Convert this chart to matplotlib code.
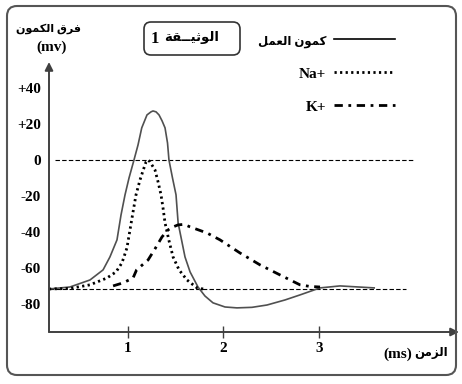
import matplotlib
matplotlib.use("Agg")
import matplotlib.pyplot as plt
from matplotlib.patches import FancyBboxPatch
from matplotlib.lines import Line2D
import matplotlib.transforms as mtransforms

# Arabic letters -> (isolated, final, initial, medial) presentation forms
FORMS = {
    'ا': ('\uFE8D', '\uFE8E', None, None),
    'ل': ('\uFEDD', '\uFEDE', '\uFEDF', '\uFEE0'),
    'ك': ('\uFED9', '\uFEDA', '\uFEDB', '\uFEDC'),
    'م': ('\uFEE1', '\uFEE2', '\uFEE3', '\uFEE4'),
    'و': ('\uFEED', '\uFEEE', None, None),
    'ن': ('\uFEE5', '\uFEE6', '\uFEE7', '\uFEE8'),
    'ف': ('\uFED1', '\uFED2', '\uFED3', '\uFED4'),
    'ر': ('\uFEAD', '\uFEAE', None, None),
    'ق': ('\uFED5', '\uFED6', '\uFED7', '\uFED8'),
    'ث': ('\uFE99', '\uFE9A', '\uFE9B', '\uFE9C'),
    'ي': ('\uFEF1', '\uFEF2', '\uFEF3', '\uFEF4'),
    'ة': ('\uFE93', '\uFE94', None, None),
    'ع': ('\uFEC9', '\uFECA', '\uFECB', '\uFECC'),
    'ز': ('\uFEAF', '\uFEB0', None, None),
    'ـ': ('ـ', 'ـ', 'ـ', 'ـ'),
}


def shape(word):
    # join letters and put them in visual (left to right) order
    out = []
    n = len(word)
    for i, c in enumerate(word):
        f = FORMS.get(c)
        if f is None:
            out.append(c)
            continue
        prev = word[i - 1] if i > 0 else None
        nxt = word[i + 1] if i < n - 1 else None
        jp = prev in FORMS and FORMS[prev][2] is not None
        jn = f[2] is not None and nxt in FORMS
        if jp and jn:
            out.append(f[3])
        elif jp:
            out.append(f[1])
        elif jn:
            out.append(f[2])
        else:
            out.append(f[0])
    return ''.join(reversed(out))


# texts
ylabel_ar = "فرق الكمون"
xlabel_ar = "الزمن"
title_ar = "الوثيــقة"
ap_label = "كمون العمل"
na_label = "Na+"
k_label = "K+"

# data (time in ms, potential in mV)
ap_t = [0.175, 0.394, 0.604, 0.741, 0.813, 0.887, 0.929, 0.971, 1.013, 1.065,
        1.107, 1.146, 1.201, 1.243, 1.264, 1.296, 1.327, 1.359, 1.39, 1.416,
        1.431, 1.468, 1.505, 1.527, 1.599, 1.652, 1.735, 1.808, 1.892, 2.018,
        2.143, 2.3, 2.458, 2.646, 2.803, 3.013, 3.222, 3.58]
ap_v = [-71.7, -70.6, -66.7, -61.1, -53.9, -44.4, -30.6, -19.4, -10, 0,
        8.3, 17.8, 25, 26.7, 27.2, 26.7, 25, 21.7, 17.8, 9.4,
        0, -10, -19.4, -35, -53.9, -62.2, -70.6, -75.6, -79.4, -81.7,
        -82.2, -81.9, -80.6, -77.8, -75, -71.1, -70, -71.1]

na_t = [0.175, 0.394, 0.604, 0.782, 0.877, 0.939, 0.991, 1.023, 1.055, 1.086,
        1.128, 1.162, 1.191, 1.212, 1.233, 1.285, 1.317, 1.348, 1.369, 1.39,
        1.432, 1.474, 1.537, 1.62, 1.725, 1.81]
na_v = [-71.7, -71.4, -69.4, -65.6, -62.2, -57.2, -48.9, -38.9, -28.9, -19.4,
        -11.1, -5.6, -1.1, 0, -1.1, -5.6, -12.2, -19.4, -26.7, -35,
        -45, -53.9, -61.1, -66.7, -71.1, -71.9]

k_t = [0.846, 0.951, 1.055, 1.092, 1.212, 1.285, 1.358, 1.421, 1.475, 1.526,
       1.589, 1.652, 1.83, 1.965, 2.175, 2.384, 2.594, 2.803, 2.908, 3.013]
k_v = [-70, -68.3, -65.6, -61.1, -55.6, -49.4, -42.8, -38.9, -37.2, -36.1,
       -35.8, -37.2, -40.6, -44.4, -51.7, -58.3, -63.9, -69.4, -70.3, -70.6]

rest_v = -71.7
zero_v = 0

xticks = [1, 2, 3]
yticks = [40, 20, 0, -20, -40, -60, -80]
ytick_labels = ["+40", "+20", "0", "-20", "-40", "-60", "-80"]

W, H = 462, 384
fams = ['Liberation Serif', 'DejaVu Sans']
plt.rcParams['font.family'] = fams
plt.rcParams['font.weight'] = 'bold'

fig = plt.figure(figsize=(W / 100, H / 100), dpi=100)
ax = fig.add_axes([49 / W, 1 - 332 / H, 410 / W, 270 / H])
ax.set_xlim(0.175, 4.468)
ax.set_ylim(-95.6, 54.4)
ax.patch.set_alpha(0)

# reference dashed lines
ax.plot([0.238, 3.986], [zero_v, zero_v], color='black', lw=0.8, ls=(0, (4, 2)))
ax.plot([0.175, 3.913], [rest_v, rest_v], color='black', lw=0.8, ls=(0, (4, 2)))

ax.plot(ap_t, ap_v, color='#505050', lw=1.2)
ax.plot(na_t, na_v, color='black', lw=2, ls=(0, (0.8, 1.2)))
ax.plot(k_t, k_v, color='black', lw=2, ls=(0, (3, 2, 1, 2)))

for s in ax.spines.values():
    s.set_visible(False)
arrow = dict(arrowstyle='-|>', color='#404040', lw=1.4, mutation_scale=12,
             shrinkA=0, shrinkB=0)
ax.annotate('', xy=(0, 1), xytext=(0, 0), xycoords='axes fraction', arrowprops=arrow)
ax.annotate('', xy=(1, 0), xytext=(0, 0), xycoords='axes fraction', arrowprops=arrow)

ax.set_xticks(xticks)
ax.set_xticklabels([str(x) for x in xticks], fontsize=11, fontweight='bold')
ax.tick_params(axis='x', direction='inout', length=8, width=1, color='#404040', pad=3)
ax.set_yticks(yticks)
ax.set_yticklabels(ytick_labels, fontsize=11, fontweight='bold')
ax.tick_params(axis='y', length=0, pad=6)

# legend (text then line)
handles = [Line2D([], [], color='black', lw=1.2),
           Line2D([], [], color='black', lw=2, ls=(0, (0.8, 1.2))),
           Line2D([], [], color='black', lw=2, ls=(0, (3, 2, 1, 2)))]
leg = ax.legend(handles, [shape(ap_label), na_label, k_label], markerfirst=False,
                frameon=False, loc='upper right', bbox_to_anchor=(395 / W, 1 - 34 / H),
                bbox_transform=fig.transFigure, prop=dict(size=11, weight='bold'),
                handlelength=4.0, handletextpad=0.5, labelspacing=1.25,
                borderpad=0, borderaxespad=0)
leg.get_texts()[0].set_fontsize(8.5)

px = mtransforms.IdentityTransform()

# outer frame
frame = FancyBboxPatch((7, H - 375), 449, 369, boxstyle='round,pad=0,rounding_size=10',
                       transform=px, fill=False, ec='#555555', lw=1.5)
fig.patches.append(frame)
# title box
tbox = FancyBboxPatch((144, H - 55), 96, 33, boxstyle='round,pad=0,rounding_size=7',
                      transform=px, fill=False, ec='#333333', lw=1.2)
fig.patches.append(tbox)
fig.text(155 / W, 1 - 39 / H, "1", ha='center', va='center',
         fontsize=12, fontweight='bold')
fig.text(164 / W, 1 - 38 / H, shape(title_ar), ha='left', va='center',
         fontsize=9.5, fontweight='bold')

fig.text(49 / W, 1 - 29 / H, shape(ylabel_ar), ha='center', va='center',
         fontsize=8, fontweight='bold')
fig.text(52 / W, 1 - 47 / H, "(mv)", ha='center', va='center', fontsize=11,
         fontweight='bold')
fig.text(398 / W, 1 - 354 / H, "(ms)", ha='center', va='center', fontsize=11,
         fontweight='bold')
fig.text(431 / W, 1 - 353 / H, shape(xlabel_ar), ha='center', va='center',
         fontsize=8.5, fontweight='bold')

fig.savefig("out.png", dpi=100)
